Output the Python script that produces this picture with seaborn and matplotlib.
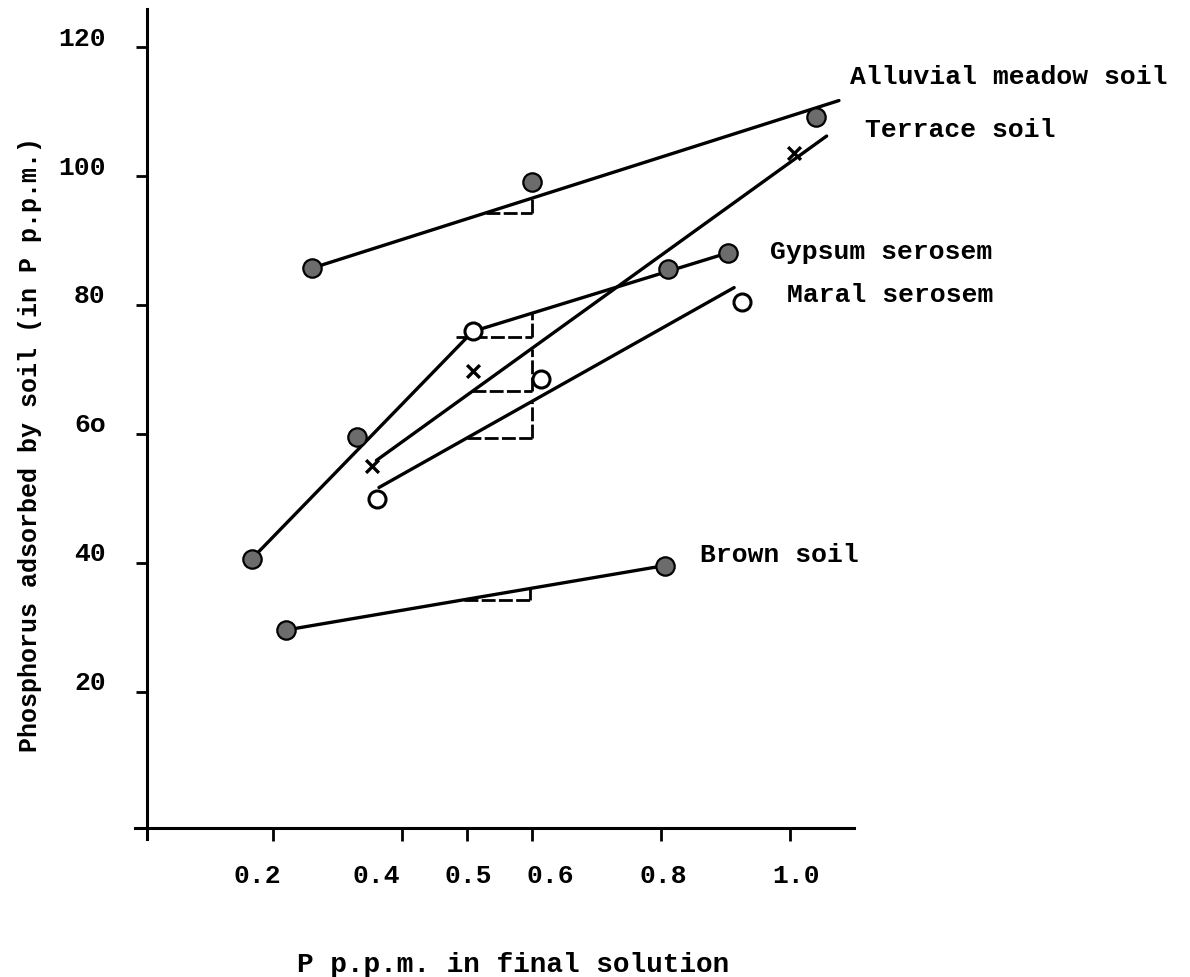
import matplotlib
matplotlib.use("Agg")
import matplotlib.pyplot as plt
from matplotlib.transforms import ScaledTranslation
import seaborn as sns

# Phosphorus adsorption: P in final solution (p.p.m.) vs P adsorbed by soil (p.p.m.)
alluvial_x = [0.26, 0.60, 1.04]
alluvial_y = [85.7, 99.0, 109.1]
alluvial_line_x = [0.26, 1.075]
alluvial_line_y = [85.7, 111.7]

terrace_x = [0.353, 0.51, 1.005]
terrace_y = [55.1, 69.8, 103.6]
terrace_line_x = [0.36, 1.056]
terrace_line_y = [55.9, 106.2]

gypsum_x = [0.167, 0.33, 0.509, 0.811, 0.904]
gypsum_y = [40.6, 59.5, 75.9, 85.6, 88.1]
gypsum_open = [False, False, True, False, False]
gypsum_line_x = [0.167, 0.509, 0.904]
gypsum_line_y = [40.6, 75.9, 88.1]

maral_x = [0.361, 0.615, 0.925]
maral_y = [49.9, 68.6, 80.5]
maral_line_x = [0.364, 0.913]
maral_line_y = [51.7, 82.7]

brown_x = [0.22, 0.806]
brown_y = [29.6, 39.6]

# slope triangles (alluvial, terrace, gypsum, maral, brown):
# vertical leg at slope_x, horizontal leg at slope_base
slope_x = [0.6, 0.6, 0.6, 0.6, 0.598]
slope_base = [94.3, 66.6, 75.1, 59.4, 34.3]

soil_names = ["Alluvial meadow soil", "Terrace soil", "Gypsum serosem",
              "Maral serosem", "Brown soil"]
name_x = [1.092, 1.115, 0.968, 0.995, 0.860]
name_y = [115.5, 107.3, 88.4, 81.7, 41.4]

x_ticks = [0.2, 0.4, 0.5, 0.6, 0.8, 1.0]
x_tick_labels = ["0.2", "0.4", "0.5", "0.6", "0.8", "1.0"]
y_ticks = [20, 40, 60, 80, 100, 120]
y_tick_labels = ["20", "40", "6o", "80", "100", "120"]

sns.set_theme(style="white")
plt.rcParams["font.family"] = ["Liberation Mono", "DejaVu Sans Mono"]
plt.rcParams["font.weight"] = "bold"
plt.rcParams["text.color"] = "black"
plt.rcParams["axes.labelcolor"] = "black"
plt.rcParams["xtick.color"] = "black"
plt.rcParams["ytick.color"] = "black"

FS = 19
fig = plt.figure(figsize=(11.9, 9.78), dpi=100)
fig.patch.set_facecolor("white")
ax = fig.add_axes([0.1135, 0.1411, 0.6040, 0.8487])
ax.set_facecolor("white")
ax.set_xlim(-0.013, 1.098)
ax.set_ylim(-2.8, 125.9)

LW = 2.4
line_kw = dict(color="black", linewidth=LW, sort=False, estimator=None, ax=ax)

fit_lines = [
    (alluvial_line_x, alluvial_line_y),
    (terrace_line_x, terrace_line_y),
    (gypsum_line_x, gypsum_line_y),
    (maral_line_x, maral_line_y),
    (brown_x, brown_y),
]
for lx, ly in fit_lines:
    sns.lineplot(x=lx, y=ly, **line_kw)

# slope triangles hanging from each line
tri_segments = [
    (alluvial_line_x, alluvial_line_y),
    (terrace_line_x, terrace_line_y),
    (gypsum_line_x[1:], gypsum_line_y[1:]),
    (maral_line_x, maral_line_y),
    (brown_x, brown_y),
]
for (lx, ly), xv, yb in zip(tri_segments, slope_x, slope_base):
    slope = (ly[1] - ly[0]) / (lx[1] - lx[0])
    y_top = ly[0] + slope * (xv - lx[0])
    x_start = lx[0] + (yb - ly[0]) / slope
    ax.plot([x_start, xv], [yb, yb], color="black", linewidth=2.0,
            linestyle=(0, (5, 1.2)), zorder=2)
    ax.plot([xv, xv], [yb, y_top], color="black", linewidth=2.0,
            linestyle=(0, (5, 1.2)), zorder=2)

filled_kw = dict(marker="o", s=175, color="#6c6c6c", edgecolor="black",
                 linewidth=1.6, zorder=5, ax=ax)
open_kw = dict(marker="o", s=150, color="white", edgecolor="black",
               linewidth=2.2, zorder=5, ax=ax)

sns.scatterplot(x=alluvial_x, y=alluvial_y, **filled_kw)
sns.scatterplot(x=brown_x, y=brown_y, **filled_kw)
sns.scatterplot(x=[x for x, o in zip(gypsum_x, gypsum_open) if not o],
                y=[y for y, o in zip(gypsum_y, gypsum_open) if not o], **filled_kw)
sns.scatterplot(x=[x for x, o in zip(gypsum_x, gypsum_open) if o],
                y=[y for y, o in zip(gypsum_y, gypsum_open) if o], **open_kw)
sns.scatterplot(x=maral_x, y=maral_y, **open_kw)
sns.scatterplot(x=terrace_x, y=terrace_y, marker="x", s=85, color="black",
                linewidth=2.4, zorder=5, ax=ax)

for name, tx, ty in zip(soil_names, name_x, name_y):
    ax.text(tx, ty, name, ha="left", va="center", fontsize=FS,
            fontweight="bold", color="black", clip_on=False)

# axes drawn as crossing lines
for side in ["top", "right"]:
    ax.spines[side].set_visible(False)
ax.spines["left"].set_position(("data", 0.006))
ax.spines["bottom"].set_position(("data", -1.1))
for side in ["left", "bottom"]:
    ax.spines[side].set_color("black")
    ax.spines[side].set_linewidth(2.2)

ax.set_xticks(x_ticks)
ax.set_xticklabels(x_tick_labels, fontsize=FS, fontweight="bold", color="black")
ax.set_yticks(y_ticks)
ax.set_yticklabels(y_tick_labels, fontsize=FS, fontweight="bold", color="black")
ax.tick_params(axis="x", bottom=True, top=False, direction="out", length=9,
               width=2, color="black", pad=16)
ax.tick_params(axis="y", left=True, right=False, direction="out", length=8,
               width=2, color="black", pad=22)

x_shift_px = [-16, -26, 1, 19, 2, 6]
for lab, dx in zip(ax.get_xticklabels(), x_shift_px):
    lab.set_transform(lab.get_transform() + ScaledTranslation(dx / 100, 0, fig.dpi_scale_trans))
for lab in ax.get_yticklabels():
    lab.set_transform(lab.get_transform() + ScaledTranslation(0, 12 / 100, fig.dpi_scale_trans))

ax.set_xlabel("P p.p.m. in final solution", fontsize=20, fontweight="bold", color="black")
ax.set_ylabel("Phosphorus adsorbed by soil (in P p.p.m.)", fontsize=18,
              fontweight="bold", color="black")
ax.xaxis.set_label_coords(0.526, -0.1506)
ax.xaxis.label.set_va("center")
ax.yaxis.set_label_coords(-0.146, 0.476)
ax.yaxis.label.set_va("center")

ax.grid(False)
fig.savefig("out.png", dpi=100, facecolor="white")
